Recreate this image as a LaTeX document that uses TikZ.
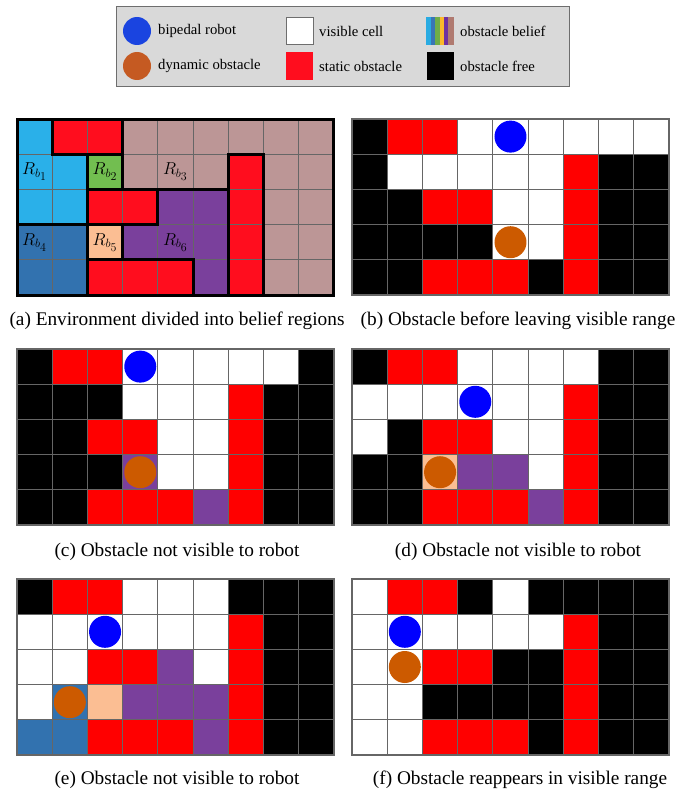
\documentclass[tikz,border=0pt]{standalone}
\usepackage{fontspec}
\setmainfont{Liberation Serif}
\definecolor{cK}{HTML}{000000}
\definecolor{cW}{HTML}{FFFFFF}
\definecolor{cR}{HTML}{FF0000}
\definecolor{cQ}{HTML}{FF0D1E}
\definecolor{cP}{HTML}{7A409C}
\definecolor{cS}{HTML}{FBBE93}
\definecolor{cB}{HTML}{3272AF}
\definecolor{cL}{HTML}{2AB0E9}
\definecolor{cG}{HTML}{72BE50}
\definecolor{cM}{HTML}{BC9696}
\definecolor{gridgray}{HTML}{666666}
\definecolor{legendgray}{HTML}{D9D9D9}
\definecolor{legendborder}{HTML}{6E6E6E}
\definecolor{robotblue}{HTML}{0000FF}
\definecolor{obsbrown}{HTML}{CC5A00}
\definecolor{legblue}{HTML}{1A44E0}
\definecolor{legbrown}{HTML}{C55A22}
\definecolor{stA}{HTML}{29ABE2}
\definecolor{stB}{HTML}{3A75B5}
\definecolor{stC}{HTML}{70AD47}
\definecolor{stD}{HTML}{FBB829}
\definecolor{stE}{HTML}{7030A0}
\definecolor{stF}{HTML}{B07A70}
\tikzset{
  cellbox/.style={draw=gridgray, line width=1.1pt},
  regionline/.style={line width=3pt, black, line cap=rect},
  robotdisk/.style={fill=robotblue},
  obsdisk/.style={fill=obsbrown},
  captext/.style={font=\fontsize{19.3}{22}\selectfont, inner sep=0pt},
  legtext/.style={font=\fontsize{14.7}{17}\selectfont, anchor=west, inner sep=0pt},
  rlabel/.style={font=\fontsize{17.28}{20}\selectfont, inner sep=0pt},
  legsquare/.style={draw=legendborder, line width=0.8pt},
}
\newcommand\mygrid[3]{%
  \begin{scope}[shift={(#1,#2)}]
    \foreach \rowlist [count=\r from 0] in {#3} {
      \foreach \cellc [count=\k from 0] in \rowlist {
        \filldraw[cellbox, fill=c\cellc] (\k*35.22, \r*35.2) rectangle ++(35.22,35.2);
      }
    }
  \end{scope}}
\newcommand\mydisk[5]{% x0 y0 row col style
  \fill[#5] ({#1+(#4+0.5)*35.22},{#2+(#3+0.5)*35.2}) circle (16pt);}
\newcommand\rbl[1]{$R_{b_{\scriptstyle #1}}$}
\begin{document}
\begin{tikzpicture}[x=1pt,y=-1pt]
\useasboundingbox (0,0) rectangle (681,792);
\fill[white] (0,0) rectangle (681,792);

% legend
\filldraw[fill=legendgray, draw=legendborder, line width=1pt] (116,7) rectangle (569,86);
\fill[legblue] (137,31) circle (14pt);
\fill[legbrown] (137,66) circle (14pt);
\node[legtext] (l1) at (158,31) {bipedal robot};
\node[legtext] (l2) at (158,66) {dynamic obstacle};
\filldraw[legsquare, fill=white] (286,17) rectangle (313,44);
\fill[cQ] (286,52) rectangle (313,80);
\node[legtext] (l3) at (319,31) {visible cell};
\node[legtext] (l4) at (319,66) {static obstacle};
\fill[stA] (426,17) rectangle (430.5,45);
\fill[stB] (430.5,17) rectangle (435,45);
\fill[stC] (435,17) rectangle (439.5,45);
\fill[stD] (439.5,17) rectangle (443.5,45);
\fill[stE] (443.5,17) rectangle (448,45);
\fill[stF] (448,17) rectangle (454,45);
\fill[black] (427,52) rectangle (454,80);
\node[legtext] (l5) at (460,31) {obstacle belief};
\node[legtext] (l6) at (460,66) {obstacle free};

% (a)
\mygrid{17}{119}{{L,Q,Q,M,M,M,M,M,M},{L,L,G,M,M,M,Q,M,M},{L,L,Q,Q,P,P,Q,M,M},{B,B,S,P,P,P,Q,M,M},{B,B,Q,Q,Q,P,Q,M,M}}
\begin{scope}[shift={(17,119)}, x=35.22pt, y=-35.2pt]
  \draw[regionline] (0,0) rectangle (9,5);
  \draw[regionline] (1,0) -- (1,1);
  \draw[regionline] (2,1) -- (2,5);
  \draw[regionline] (3,0) -- (3,2);
  \draw[regionline] (3,3) -- (3,4);
  \draw[regionline] (4,2) -- (4,3);
  \draw[regionline] (5,4) -- (5,5);
  \draw[regionline] (6,1) -- (6,5);
  \draw[regionline] (7,1) -- (7,5);
  \draw[regionline] (1,1) -- (3,1);
  \draw[regionline] (6,1) -- (7,1);
  \draw[regionline] (2,2) -- (6,2);
  \draw[regionline] (0,3) -- (4,3);
  \draw[regionline] (2,4) -- (5,4);
  \node[rlabel] (rb1) at (0.5,1.5) {\rbl{1}};
  \node[rlabel] (rb2) at (2.5,1.5) {\rbl{2}};
  \node[rlabel] (rb3) at (4.5,1.5) {\rbl{3}};
  \node[rlabel] (rb4) at (0.5,3.5) {\rbl{4}};
  \node[rlabel] (rb5) at (2.5,3.5) {\rbl{5}};
  \node[rlabel] (rb6) at (4.5,3.5) {\rbl{6}};
\end{scope}
\node[captext] (capa) at (177,321) {(a) Environment divided into belief regions};

% (b)
\mygrid{352}{119}{{K,R,R,W,W,W,W,W,W},{K,W,W,W,W,W,R,K,K},{K,K,R,R,W,W,R,K,K},{K,K,K,K,W,W,R,K,K},{K,K,R,R,R,K,R,K,K}}
\mydisk{352}{119}{0}{4}{robotdisk}
\mydisk{352}{119}{3}{4}{obsdisk}
\node[captext] (capb) at (518,321) {(b) Obstacle before leaving visible range};

% (c)
\mygrid{17}{349}{{K,R,R,W,W,W,W,W,K},{K,K,K,W,W,W,R,K,K},{K,K,R,R,W,W,R,K,K},{K,K,K,P,W,W,R,K,K},{K,K,R,R,R,P,R,K,K}}
\mydisk{17}{349}{0}{3}{robotdisk}
\mydisk{17}{349}{3}{3}{obsdisk}
\node[captext] (capc) at (177,552) {(c) Obstacle not visible to robot};

% (d)
\mygrid{352}{349}{{K,R,R,W,W,W,W,K,K},{W,W,W,W,W,W,R,K,K},{W,K,R,R,W,W,R,K,K},{K,K,S,P,P,W,R,K,K},{K,K,R,R,R,P,R,K,K}}
\mydisk{352}{349}{1}{3}{robotdisk}
\mydisk{352}{349}{3}{2}{obsdisk}
\node[captext] (capd) at (518,552) {(d) Obstacle not visible to robot};

% (e)
\mygrid{17}{579}{{K,R,R,W,W,W,K,K,K},{W,W,W,W,W,W,R,K,K},{W,W,R,R,P,W,R,K,K},{W,B,S,P,P,P,R,K,K},{B,B,R,R,R,P,R,K,K}}
\mydisk{17}{579}{1}{2}{robotdisk}
\mydisk{17}{579}{3}{1}{obsdisk}
\node[captext] (cape) at (177,780) {(e) Obstacle not visible to robot};

% (f)
\mygrid{352}{579}{{W,R,R,K,W,K,K,K,K},{W,W,W,W,W,W,R,K,K},{W,W,R,R,K,K,R,K,K},{W,W,K,K,K,K,R,K,K},{W,W,R,R,R,K,R,K,K}}
\mydisk{352}{579}{1}{1}{robotdisk}
\mydisk{352}{579}{2}{1}{obsdisk}
\node[captext] (capf) at (520,780) {(f) Obstacle reappears in visible range};
\end{tikzpicture}
\end{document}
